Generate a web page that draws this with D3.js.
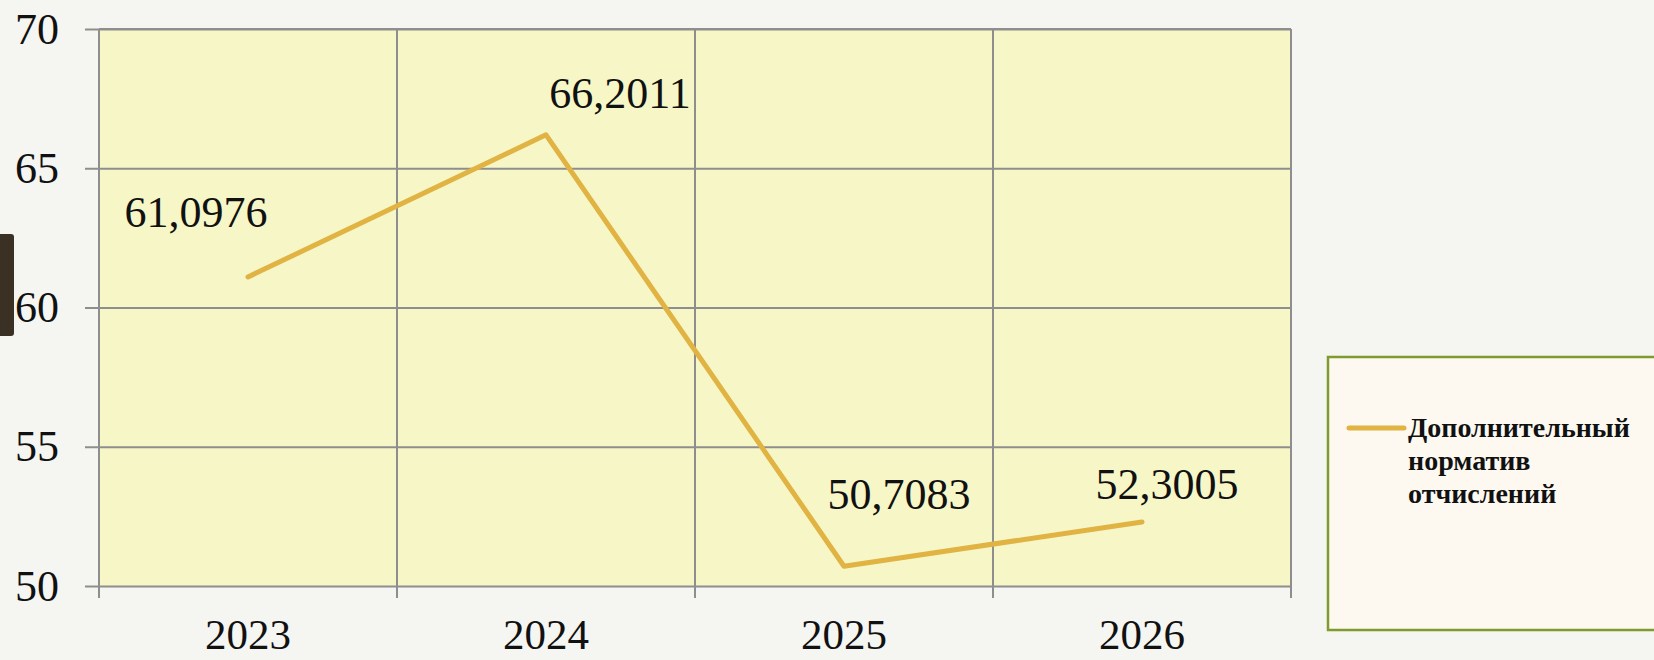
<!DOCTYPE html>
<html>
<head>
<meta charset="utf-8">
<script src="https://cdn.jsdelivr.net/npm/d3@7"></script>
<style>
  body { margin: 0; background: #f5f5f2; }
  svg { display: block; }
</style>
</head>
<body>
<script>
var fullWidth = 1654
var fullHeight = 660
var margin = { top: 29, right: 363, bottom: 74, left: 99 },
  innerWidth = fullWidth - margin.left - margin.right,
  innerHeight = fullHeight - margin.top - margin.bottom

// data
var years = ['2023', '2024', '2025', '2026']
var values = [61.0976, 66.2011, 50.7083, 52.3005]
var valueLabels = ['61,0976', '66,2011', '50,7083', '52,3005']
var yTicks = [50, 55, 60, 65, 70]
var seriesName = ['Дополнительный', 'норматив', 'отчислений']

// hand-placed data labels (layout only)
var labelShift = [[-52, -50], [74, -27], [55, -57], [25, -23]]

var lineColor = '#e0b342'
var gridColor = '#8e8e8e'
var serif = '"Liberation Serif", "DejaVu Serif", serif'

var svg = d3
  .select('body')
  .append('svg')
  .attr('width', fullWidth)
  .attr('height', fullHeight)

// slide decoration at left edge
svg.append('rect')
  .attr('x', -4).attr('y', 234)
  .attr('width', 18).attr('height', 102)
  .attr('rx', 3)
  .style('fill', '#3b3024')

var g = svg.append('g')
  .attr('transform', 'translate(' + margin.left + ',' + margin.top + ')')

var x = d3.scaleBand().domain(years).range([0, innerWidth])
var y = d3.scaleLinear().domain([50, 70]).range([innerHeight, 0])

g.append('rect')
  .attr('width', innerWidth)
  .attr('height', innerHeight)
  .style('fill', '#f7f6c7')

// horizontal grid + left ticks
g.append('g')
  .call(d3.axisLeft(y).tickValues(yTicks).tickSize(-innerWidth).tickPadding(40).tickFormat(d3.format('d')))
  .call((s) => s.select('.domain').remove())
  .call((s) => s.selectAll('.tick line').attr('x1', -14).style('stroke', gridColor).style('stroke-width', 2))
  .call((s) => s.selectAll('.tick text').style('font-family', serif).style('font-size', '44px').style('fill', '#111'))

// vertical grid lines at band edges
var edges = years.map((d) => x(d)).concat([innerWidth])
g.selectAll('.vgrid')
  .data(edges)
  .enter()
  .append('line')
  .attr('class', 'vgrid')
  .attr('x1', (d) => d).attr('x2', (d) => d)
  .attr('y1', 0).attr('y2', innerHeight + 12)
  .style('stroke', gridColor)
  .style('stroke-width', 2)

// x labels
g.append('g')
  .attr('transform', 'translate(0,' + innerHeight + ')')
  .call(d3.axisBottom(x).tickSize(0).tickPadding(32))
  .call((s) => s.select('.domain').remove())
  .call((s) => s.selectAll('.tick text').style('font-family', serif).style('font-size', '43px').style('fill', '#111'))

// top border
g.append('line')
  .attr('x1', 0).attr('x2', innerWidth)
  .attr('y1', 0).attr('y2', 0)
  .style('stroke', gridColor).style('stroke-width', 2)

var line = d3.line()
  .x((d, i) => x(years[i]) + x.bandwidth() / 2)
  .y((d) => y(d))

g.append('path')
  .datum(values)
  .attr('d', line)
  .style('fill', 'none')
  .style('stroke', lineColor)
  .style('stroke-width', 5)
  .style('stroke-linecap', 'round')
  .style('stroke-linejoin', 'round')

g.selectAll('.vlabel')
  .data(values)
  .enter()
  .append('text')
  .attr('class', 'vlabel')
  .attr('x', (d, i) => x(years[i]) + x.bandwidth() / 2 + labelShift[i][0])
  .attr('y', (d, i) => y(d) + labelShift[i][1])
  .attr('text-anchor', 'middle')
  .style('font-family', serif)
  .style('font-size', '44px')
  .style('fill', '#111')
  .text((d, i) => valueLabels[i])

// legend
var leg = svg.append('g').attr('transform', 'translate(1328,357)')
leg.append('rect')
  .attr('width', 340).attr('height', 273)
  .style('fill', '#fdf9f1')
  .style('stroke', '#7f9a2e')
  .style('stroke-width', 2.5)
leg.append('line')
  .attr('x1', 21).attr('x2', 76)
  .attr('y1', 71).attr('y2', 71)
  .style('stroke', lineColor)
  .style('stroke-width', 5)
  .style('stroke-linecap', 'round')
leg.append('text')
  .attr('x', 80).attr('y', 80)
  .style('font-family', serif)
  .style('font-weight', 'bold')
  .style('font-size', '28px')
  .style('fill', '#111')
  .selectAll('tspan')
  .data(seriesName)
  .enter()
  .append('tspan')
  .attr('x', 80)
  .attr('dy', (d, i) => (i === 0 ? 0 : 33))
  .text((d) => d)
</script>
</body>
</html>
